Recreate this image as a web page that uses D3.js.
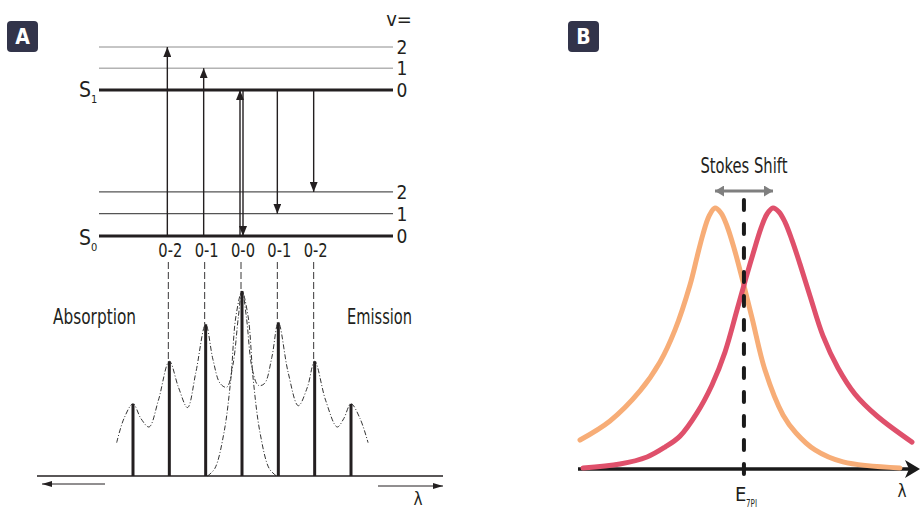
<!DOCTYPE html>
<html>
<head>
<meta charset="utf-8">
<script src="https://cdn.jsdelivr.net/npm/d3@7"></script>
<style>
  body { margin: 0; background: #fff; }
  svg text { font-family: "Liberation Sans Narrow", "DejaVu Sans Condensed", "Open Sans", sans-serif; fill: #231f20; }
</style>
</head>
<body>
<svg id="chart"></svg>
<script>
// Panel A: Jablonski levels + vibronic spectrum
var levelNames = ['0', '1', '2'];
var s0Energy = [0, 0.118, 0.233];
var s1Energy = [0.772, 0.888, 1.0];

var transLabels = ['0-2', '0-1', '0-0', '0-1', '0-2'];
var transPos = [-2, -1, 0, 1, 2];
// absorption goes S0 v=0 -> S1 v=n, emission S1 v=0 -> S0 v=n
var absTarget = [2, 1, 0];
var emTarget = [0, 1, 2];

var stickPos = [-3, -2, -1, 0, 1, 2, 3];
var stickHeight = [0.39, 0.62, 0.82, 1.0, 0.83, 0.62, 0.39];

var absEnvelope = [[-3.45, 0.18], [-3.25, 0.31], [-3.0, 0.39], [-2.78, 0.31], [-2.56, 0.265],
  [-2.3, 0.41], [-2.0, 0.62], [-1.75, 0.48], [-1.5, 0.37], [-1.27, 0.56], [-1.0, 0.82],
  [-0.8, 0.63], [-0.6, 0.5], [-0.42, 0.48], [-0.25, 0.6], [-0.1, 0.86], [0, 1.0],
  [0.17, 0.86], [0.31, 0.52], [0.5, 0.23], [0.75, 0.04], [0.95, 0.0]];
var emEnvelope = [[-0.95, 0.0], [-0.75, 0.04], [-0.5, 0.23], [-0.31, 0.52], [-0.17, 0.86],
  [0, 1.0], [0.12, 0.86], [0.28, 0.58], [0.45, 0.49], [0.62, 0.5], [0.82, 0.64], [1.0, 0.83],
  [1.27, 0.56], [1.55, 0.38], [1.8, 0.48], [2.0, 0.62], [2.3, 0.41], [2.62, 0.265],
  [2.8, 0.31], [3.0, 0.39], [3.25, 0.31], [3.47, 0.18]];

// Panel B: absorption / emission bands (lambda, normalised intensity)
var absorbBand = [[0.0, 0.111], [8.88, 0.184], [17.75, 0.299], [23.67, 0.410], [28.11, 0.533],
  [32.54, 0.705], [34.62, 0.812], [36.39, 0.900], [38.17, 0.969], [39.94, 1.0], [41.72, 0.981],
  [43.49, 0.931], [45.56, 0.847], [47.93, 0.732], [50.89, 0.579], [54.73, 0.379], [60.06, 0.207],
  [63.91, 0.138], [69.53, 0.073], [77.81, 0.027], [94.67, 0.004]];
var emitBand = [[0.89, 0.004], [11.83, 0.019], [19.82, 0.046], [25.15, 0.084], [29.59, 0.126],
  [34.62, 0.215], [39.05, 0.322], [42.90, 0.448], [46.45, 0.609], [49.11, 0.732], [51.18, 0.824],
  [53.55, 0.923], [55.33, 0.977], [57.10, 1.0], [58.88, 0.985], [60.65, 0.946], [62.72, 0.877],
  [65.09, 0.785], [68.05, 0.663], [71.89, 0.510], [76.33, 0.387], [81.36, 0.287], [87.87, 0.203],
  [98.22, 0.103]];
var eCross = 48.5;

var width = 920, height = 509;
var svg = d3.select('#chart').attr('width', width).attr('height', height);

function arrowMarker(id, color, len, half) {
  svg.append('defs').append('marker')
    .attr('id', id)
    .attr('markerUnits', 'userSpaceOnUse')
    .attr('viewBox', [0, -half, len, half * 2].join(' '))
    .attr('refX', len).attr('refY', 0)
    .attr('markerWidth', len).attr('markerHeight', half * 2)
    .attr('orient', 'auto-start-reverse')
    .append('path')
      .attr('d', 'M0,' + (-half) + 'L' + len + ',0L0,' + half + 'Z')
      .attr('fill', color);
}
arrowMarker('headA', '#231f20', 10, 4);
arrowMarker('headSmall', '#231f20', 10, 3);
arrowMarker('headGray', '#7f7f7f', 9, 5.5);

function badge(x, label) {
  svg.append('rect').attr('x', x).attr('y', 21).attr('width', 31).attr('height', 31)
    .attr('rx', 4).attr('fill', '#32344a');
  svg.append('text').attr('x', x + 15.5).attr('y', 44).attr('text-anchor', 'middle')
    .style('fill', '#fff').style('font-weight', 'bold').style('font-size', '21px').text(label);
}
badge(7, 'A');
badge(568, 'B');

/* ---------- panel A ---------- */
var xA = d3.scaleLinear().domain([-3, 3]).range([133, 351]);
var yE = d3.scaleLinear().domain([0, 1]).range([236, 47]);
var yS = d3.scaleLinear().domain([0, 1]).range([476, 291]);

var gA = svg.append('g');

function levels(energies, upper) {
  gA.selectAll(null).data(energies).enter().append('line')
    .attr('x1', 99).attr('x2', 393)
    .attr('y1', function (d) { return yE(d); }).attr('y2', function (d) { return yE(d); })
    .attr('stroke', function (d, i) { return i === 0 ? '#231f20' : (upper ? '#8c8c8c' : '#555'); })
    .attr('stroke-width', function (d, i) { return i === 0 ? 3 : (upper ? 1 : 1.3); });
  gA.selectAll(null).data(energies).enter().append('text')
    .attr('x', 402).attr('y', function (d) { return yE(d) + 7; })
    .attr('text-anchor', 'middle').style('font-size', '19px')
    .text(function (d, i) { return levelNames[i]; });
}
levels(s1Energy, true);
levels(s0Energy, false);

gA.append('text').attr('x', 399).attr('y', 26).attr('text-anchor', 'middle')
  .style('font-size', '20px').text('v=');

function stateLabel(y, sub) {
  gA.append('text').attr('x', 79).attr('y', y).style('font-size', '21px').text('S');
  gA.append('text').attr('x', 91).attr('y', y + 6).style('font-size', '11px').text(sub);
}
stateLabel(yE(s1Energy[0]) + 7, '1');
stateLabel(yE(s0Energy[0]) + 9, '0');

// transitions
absTarget.forEach(function (v, i) {
  var px = xA(transPos[i]) - 2;
  gA.append('line').attr('x1', px).attr('x2', px)
    .attr('y1', yE(s0Energy[0])).attr('y2', yE(s1Energy[v]))
    .attr('stroke', '#231f20').attr('stroke-width', 1.4).attr('marker-end', 'url(#headA)');
});
emTarget.forEach(function (v, i) {
  var px = xA(transPos[i + 2]) + (i === 0 ? 1 : -1);
  gA.append('line').attr('x1', px).attr('x2', px)
    .attr('y1', yE(s1Energy[0])).attr('y2', yE(s0Energy[v]))
    .attr('stroke', '#231f20').attr('stroke-width', 1.4).attr('marker-end', 'url(#headA)');
});

// transition labels and guide lines down to the spectrum
gA.selectAll(null).data(transLabels).enter().append('text')
  .attr('x', function (d, i) { return xA(transPos[i]) + 1; })
  .attr('y', 257).attr('text-anchor', 'middle').style('font-size', '20px')
  .attr('textLength', 24).attr('lengthAdjust', 'spacingAndGlyphs')
  .text(function (d) { return d; });

gA.selectAll(null).data(transPos).enter().append('line')
  .attr('x1', function (d) { return xA(d) - 1; }).attr('x2', function (d) { return xA(d) - 1; })
  .attr('y1', 262)
  .attr('y2', function (d) { return yS(stickHeight[stickPos.indexOf(d)]); })
  .attr('stroke', '#231f20').attr('stroke-width', 0.9).attr('stroke-dasharray', '7,3');

// spectrum
var env = d3.line()
  .x(function (d) { return xA(d[0]); })
  .y(function (d) { return yS(d[1]); })
  .curve(d3.curveCatmullRom.alpha(0.5));

[absEnvelope, emEnvelope].forEach(function (pts) {
  gA.append('path').attr('d', env(pts)).attr('fill', 'none')
    .attr('stroke', '#333').attr('stroke-width', 1).attr('stroke-dasharray', '5,2,1,2');
});

gA.append('line').attr('x1', 37).attr('x2', 443).attr('y1', yS(0)).attr('y2', yS(0))
  .attr('stroke', '#231f20').attr('stroke-width', 1.5);

gA.selectAll(null).data(stickPos).enter().append('line')
  .attr('x1', function (d) { return xA(d); }).attr('x2', function (d) { return xA(d); })
  .attr('y1', yS(0))
  .attr('y2', function (d, i) { return yS(stickHeight[i]); })
  .attr('stroke', '#231f20').attr('stroke-width', 3);

gA.append('text').attr('x', 53).attr('y', 324).style('font-size', '21px')
  .attr('textLength', 83).attr('lengthAdjust', 'spacingAndGlyphs').text('Absorption');
gA.append('text').attr('x', 347).attr('y', 324).style('font-size', '21px')
  .attr('textLength', 65).attr('lengthAdjust', 'spacingAndGlyphs').text('Emission');

gA.append('line').attr('x1', 105).attr('x2', 42).attr('y1', 484).attr('y2', 484)
  .attr('stroke', '#231f20').attr('stroke-width', 1).attr('marker-end', 'url(#headSmall)');
gA.append('line').attr('x1', 378).attr('x2', 443).attr('y1', 486).attr('y2', 486)
  .attr('stroke', '#231f20').attr('stroke-width', 1).attr('marker-end', 'url(#headSmall)');
gA.append('text').attr('x', 418).attr('y', 505).attr('text-anchor', 'middle')
  .style('font-size', '17px').text('λ');

/* ---------- panel B ---------- */
var xB = d3.scaleLinear().domain([0, 100]).range([580, 918]);
var yB = d3.scaleLinear().domain([0, 1]).range([469, 208]);
var gB = svg.append('g');

gB.append('line').attr('x1', 578).attr('x2', 912).attr('y1', yB(0)).attr('y2', yB(0))
  .attr('stroke', '#1a1a1a').attr('stroke-width', 3.5);
gB.append('path')
  .attr('d', 'M' + (xB(100) + 2) + ',' + yB(0) + 'l-15,-9l4,9l-4,9Z')
  .attr('fill', '#1a1a1a');

var band = d3.line()
  .x(function (d) { return xB(d[0]); })
  .y(function (d) { return yB(d[1]); })
  .curve(d3.curveCatmullRom.alpha(0.5));

gB.append('path').attr('d', band(absorbBand)).attr('fill', 'none')
  .attr('stroke', '#f7ad77').attr('stroke-width', 5).attr('stroke-linecap', 'round');
gB.append('path').attr('d', band(emitBand)).attr('fill', 'none')
  .attr('stroke', '#df506b').attr('stroke-width', 5).attr('stroke-linecap', 'round');

gB.append('line').attr('x1', xB(eCross)).attr('x2', xB(eCross))
  .attr('y1', 200).attr('y2', 480)
  .attr('stroke', '#1a1a1a').attr('stroke-width', 4)
  .attr('stroke-linecap', 'round').attr('stroke-dasharray', '10,14');

var absPeak = absorbBand[d3.maxIndex(absorbBand, function (d) { return d[1]; })][0];
var emPeak = emitBand[d3.maxIndex(emitBand, function (d) { return d[1]; })][0];
gB.append('line').attr('x1', xB(absPeak)).attr('x2', xB(emPeak))
  .attr('y1', 191).attr('y2', 191)
  .attr('stroke', '#7f7f7f').attr('stroke-width', 3)
  .attr('marker-start', 'url(#headGray)').attr('marker-end', 'url(#headGray)');

gB.append('text').attr('x', xB(eCross)).attr('y', 173).attr('text-anchor', 'middle')
  .style('font-size', '21px').attr('textLength', 87).attr('lengthAdjust', 'spacingAndGlyphs')
  .text('Stokes Shift');

gB.append('text').attr('x', 735).attr('y', 501).style('font-size', '20px').text('E');
gB.append('text').attr('x', 746).attr('y', 507).style('font-size', '10px')
  .attr('textLength', 11).attr('lengthAdjust', 'spacingAndGlyphs').text('7PI');
gB.append('text').attr('x', 902).attr('y', 497).attr('text-anchor', 'middle')
  .style('font-size', '17px').text('λ');
</script>
</body>
</html>
